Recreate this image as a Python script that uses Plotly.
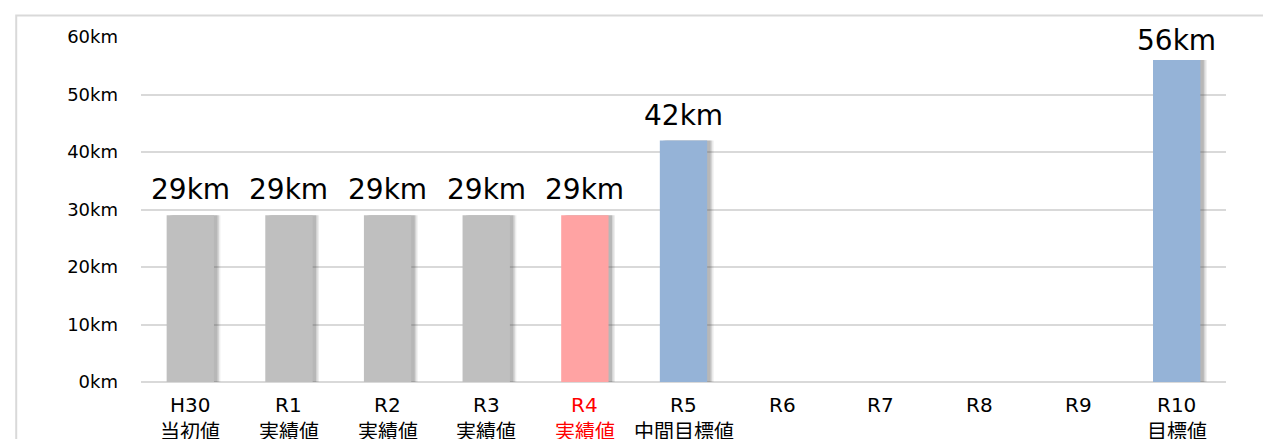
import plotly.graph_objects as go

# Road length by fiscal year (km)
years = ["H30", "R1", "R2", "R3", "R4", "R5", "R6", "R7", "R8", "R9", "R10"]
sublabels = ["当初値", "実績値", "実績値", "実績値", "実績値", "中間目標値", "", "", "", "", "目標値"]
lengths = [29, 29, 29, 29, 29, 42, None, None, None, None, 56]
bar_colors = ["#BFBFBF", "#BFBFBF", "#BFBFBF", "#BFBFBF", "#FFA3A3", "#95B3D7",
              "#95B3D7", "#95B3D7", "#95B3D7", "#95B3D7", "#95B3D7"]
highlight = "R4"
y_ticks = [0, 10, 20, 30, 40, 50, 60]
y_ticktext = [f"{t}km" for t in y_ticks]

FONT = "DejaVu Sans, Noto Sans CJK JP, sans-serif"
BAR_W = 0.48

fig = go.Figure()

# soft drop shadow to the right of each bar (stacked translucent layers)
for shift, alpha in [(0.065, 0.10), (0.05, 0.16), (0.035, 0.22)]:
    fig.add_trace(go.Bar(
        x=years, y=lengths, width=BAR_W, offset=-BAR_W / 2 + shift,
        marker=dict(color=f"rgba(80,80,80,{alpha})", line=dict(width=0)),
        hoverinfo="skip", showlegend=False,
    ))
fig.add_trace(go.Bar(
    x=years, y=lengths, width=BAR_W, offset=-BAR_W / 2,
    marker=dict(color=bar_colors, line=dict(width=0)),
    showlegend=False,
))

# value labels above bars
for yr, v in zip(years, lengths):
    if v is None:
        continue
    fig.add_annotation(
        x=yr, y=v, xref="x", yref="y", text=f"{v}km", showarrow=False,
        yanchor="bottom", yshift=7 if v < 50 else 1,
        font=dict(family=FONT, size=28, color="#000000"),
    )

# category labels: year on the first line, description on the second
for yr, sub in zip(years, sublabels):
    color = "#FF0000" if yr == highlight else "#000000"
    fig.add_annotation(
        x=yr, y=0, xref="x", yref="paper", text=yr, showarrow=False,
        yanchor="middle", yshift=-23,
        font=dict(family=FONT, size=20, color=color),
    )
    if sub:
        fig.add_annotation(
            x=yr, y=0, xref="x", yref="paper", text=sub, showarrow=False,
            yanchor="middle", yshift=-50,
            font=dict(family=FONT, size=20, color=color),
        )

fig.update_layout(
    width=1263, height=439,
    margin=dict(l=141, r=37, t=37, b=57),
    paper_bgcolor="white", plot_bgcolor="white",
    barmode="overlay",
    font=dict(family=FONT, color="#000000"),
    xaxis=dict(
        type="category", categoryorder="array", categoryarray=years,
        showticklabels=False, showgrid=False, showline=False,
        ticks="", range=[-0.5, 10.5],
    ),
    yaxis=dict(
        range=[0, 60], tickmode="array", tickvals=y_ticks, ticktext=y_ticktext,
        tickfont=dict(size=18, color="#000000"),
        showgrid=True, gridcolor="#D9D9D9", gridwidth=2,
        zeroline=True, zerolinecolor="#D9D9D9", zerolinewidth=2,
        showline=False, ticks="", ticklabelstandoff=22,
    ),
    shapes=[dict(
        type="rect", xref="paper", yref="paper",
        x0=-0.115, x1=1.2, y0=-0.5, y1=1.062,
        line=dict(color="#D9D9D9", width=2), fillcolor="rgba(0,0,0,0)",
        layer="below",
    )],
)

fig.write_html("out.html")
